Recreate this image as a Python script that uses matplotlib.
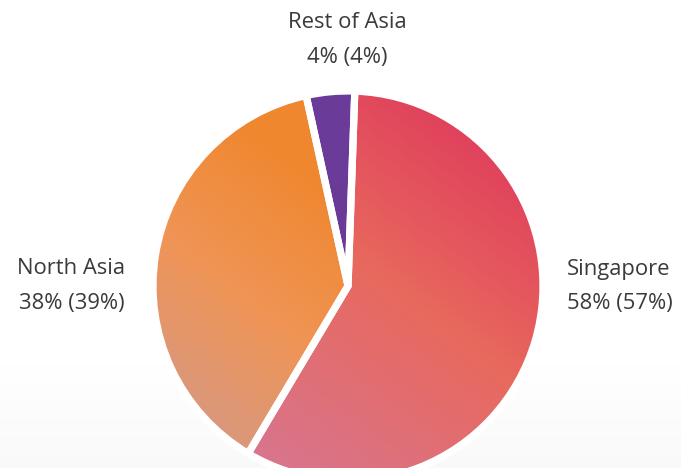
import matplotlib

matplotlib.use("Agg")
import matplotlib.pyplot as plt
import numpy as np
from matplotlib.colors import LinearSegmentedColormap
from matplotlib.patches import Circle

W, H = 681, 468

regions = ["Singapore", "North Asia", "Rest of Asia"]
shares = [58, 38, 4]
prior = [57, 39, 4]

# gradient stops per slice: (start point, end point, colours) in pixel coords, y down
fills = [
    ((505, 120), (265, 445), ["#df3a5c", "#e8695e", "#d9748a"]),
    ((345, 200), (180, 410), ["#ef872f", "#f09454", "#d9987e"]),
    ((340, 90), (350, 280), ["#6b3c9a", "#6a3a96"]),
]

fig = plt.figure(figsize=(W / 100, H / 100), dpi=100, facecolor="white")
ax = fig.add_axes([0, 0, 1, 1])

# faint grey wash at the bottom of the canvas
yy = np.linspace(0, 1, 200)[:, None]
wash = np.clip((0.22 - yy) / 0.22, 0, 1) * 0.022
bg = np.ones((200, 2, 3)) - wash[..., None]
ax.imshow(bg, extent=(0, W, 0, H), origin="lower", aspect="auto", zorder=0)

cx, cy, r = 348, H - 286, 195
wedges, _ = ax.pie(
    shares,
    center=(cx, cy),
    radius=r,
    startangle=88,
    counterclock=False,
    explode=[0, 0, 0.02],
    wedgeprops=dict(facecolor="none", edgecolor="white", linewidth=5.2, zorder=3),
)

# keep the white separators inside the disc so the rim stays clean
rim = Circle((cx, cy), r - 2, transform=ax.transData)
for wedge in wedges:
    wedge.set_clip_path(rim)

gx, gy = np.meshgrid(np.arange(W) + 0.5, H - (np.arange(H) + 0.5))
for wedge, (p0, p1, cols) in zip(wedges, fills):
    x0, y0 = p0[0], H - p0[1]
    x1, y1 = p1[0], H - p1[1]
    dx, dy = x1 - x0, y1 - y0
    t = ((gx - x0) * dx + (gy - y0) * dy) / (dx * dx + dy * dy)
    cmap = LinearSegmentedColormap.from_list("fill", cols)
    img = ax.imshow(np.clip(t, 0, 1), cmap=cmap, vmin=0, vmax=1,
                    extent=(0, W, 0, H), origin="upper", aspect="auto", zorder=2)
    img.set_clip_path(wedge)

ax.set_xlim(0, W)
ax.set_ylim(0, H)
ax.set_axis_off()

txt = dict(color="#3a3a3a", fontsize=15.8, family="Open Sans", weight="medium")
labels = [
    (567, 269, "left"),
    (125, 269, "right"),
    (347, 23, "center"),
]
for name, now, before, (x, y, ha) in zip(regions, shares, prior, labels):
    ax.text(x, H - y, name, ha=ha, va="center", zorder=5, **txt)
    ax.text(x, H - y - 35, f"{now}% ({before}%)", ha=ha, va="center", zorder=5, **txt)

fig.savefig("out.png", dpi=100, facecolor="white")
